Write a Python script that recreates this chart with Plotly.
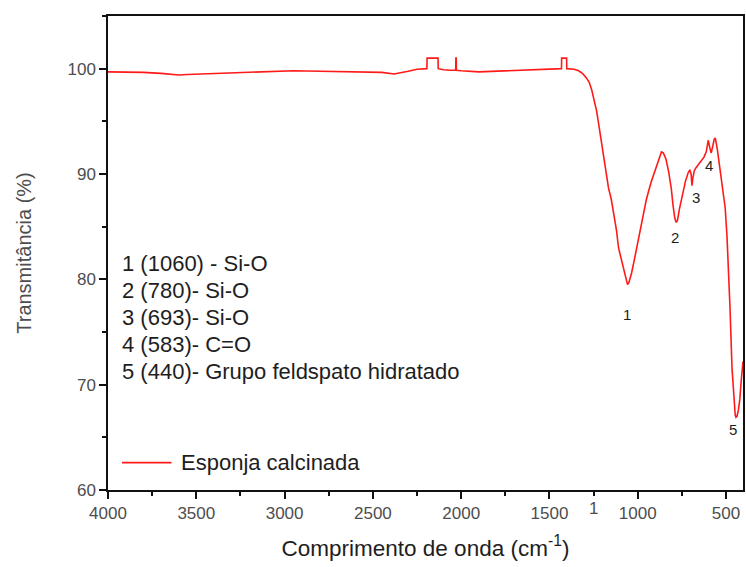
import plotly.graph_objects as go

# FTIR spectrum of the calcined sponge: wavenumber (cm-1) and transmittance (%)
wavenumber = [
    4000, 3900, 3800, 3700, 3650, 3600, 3550, 3450, 3300, 3100, 2950, 2800,
    2600, 2450, 2380, 2340, 2300, 2250, 2200, 2194, 2193, 2131, 2130, 2100,
    2060, 2031, 2030, 2028, 2027, 2000, 1900, 1800, 1700, 1600, 1500, 1440,
    1432, 1431, 1403, 1402, 1360, 1335, 1310, 1290, 1275, 1261, 1245, 1233,
    1220, 1205, 1185, 1166, 1150, 1137, 1120, 1109, 1092, 1075, 1065, 1058,
    1050, 1035, 1020, 1007, 996, 975, 951, 925, 900, 880, 866, 855, 840, 825,
    810, 800, 790, 782, 775, 765, 748, 730, 715, 705, 698, 693, 688, 680, 670,
    655, 640, 625, 612, 601, 592, 584, 576, 567, 561, 550, 533, 519, 505, 495,
    488, 478, 466, 455, 448, 444, 438, 430, 422, 415, 410, 407, 404,
]
transmittance = [
    99.7, 99.7, 99.65, 99.55, 99.45, 99.4, 99.45, 99.5, 99.6, 99.7, 99.8, 99.75,
    99.7, 99.65, 99.5, 99.6, 99.75, 99.95, 100.0, 100.0, 101.0, 101.0, 100.0, 99.9,
    99.85, 99.85, 101.0, 101.0, 99.85, 99.8, 99.7, 99.75, 99.8, 99.9, 99.95, 100.0,
    100.0, 101.0, 101.0, 100.0, 99.95, 99.8, 99.5, 99.1, 98.7, 98.0, 97.0, 96.0,
    94.6, 92.9, 90.8, 88.7, 87.6, 86.3, 84.6, 83.0, 81.8, 80.5, 79.8, 79.5,
    79.7, 80.6, 81.8, 82.9, 83.8, 85.8, 87.6, 89.2, 90.5, 91.5, 92.1, 92.0, 91.4, 90.2,
    88.6, 87.0, 85.8, 85.4, 85.6, 86.6, 88.0, 89.3, 90.1, 90.4, 90.0, 88.9, 89.6, 90.3, 90.6,
    90.9, 91.2, 91.6, 92.1, 93.2, 92.5, 92.0, 92.6, 93.3, 93.4, 92.4, 90.3, 88.6, 86.8, 84.2,
    81.8, 77.5, 71.5, 68.0, 67.1, 66.9, 67.0, 67.6, 68.6, 70.2, 71.6, 72.0, 72.2,
]
series_name = "Esponja calcinada"

# Band assignments listed inside the plot
band_notes = [
    "1 (1060) - Si-O",
    "2 (780)- Si-O",
    "3 (693)- Si-O",
    "4 (583)- C=O",
    "5 (440)- Grupo feldspato hidratado",
]

# Peak numbers placed beside each band
peak_ids = ["1", "2", "3", "4", "5"]
peak_x = [1060, 790, 668, 595, 460]
peak_y = [76.7, 84.0, 87.8, 90.8, 65.7]

x_tick_vals = [4000, 3500, 3000, 2500, 2000, 1500, 1000, 500]
x_tick_text = ["4000", "3500", "3000", "2500", "2000", "1500", "1000", "500"]
y_tick_vals = [60, 70, 80, 90, 100]

FONT = "Liberation Sans, Arial, sans-serif"
TICK_COLOR = "#4d4d4d"
TEXT_COLOR = "#1e1e1e"
LINE_COLOR = "#ff1a1a"

fig = go.Figure()
fig.add_trace(go.Scatter(
    x=wavenumber, y=transmittance, mode="lines",
    line=dict(color=LINE_COLOR, width=1.6),
    name=series_name, showlegend=False,
))

annotations = []
for i, txt in enumerate(band_notes):
    annotations.append(dict(
        xref="paper", yref="y", x=0.019, y=81.5 - i * 2.56,
        text=txt, showarrow=False, xanchor="left", yanchor="middle",
        font=dict(family=FONT, size=22, color=TEXT_COLOR),
    ))
for pid, px, py in zip(peak_ids, peak_x, peak_y):
    annotations.append(dict(
        x=px, y=py, text=pid, showarrow=False,
        font=dict(family=FONT, size=15, color=TEXT_COLOR),
    ))
# Stray label sitting on the 1250 minor tick
annotations.append(dict(
    x=1250, xref="x", yref="paper", y=0, yshift=-18, text="1",
    showarrow=False, yanchor="middle",
    font=dict(family=FONT, size=17, color=TICK_COLOR),
))

# Legend key: short red line followed by the series name
legend_y = 62.6
annotations.append(dict(
    xref="paper", yref="y", x=0.112, y=legend_y, text=series_name,
    showarrow=False, xanchor="left", yanchor="middle",
    font=dict(family=FONT, size=22, color=TEXT_COLOR),
))
shapes = [dict(
    type="line", xref="paper", yref="y", x0=0.022, x1=0.100, y0=legend_y, y1=legend_y,
    line=dict(color=LINE_COLOR, width=1.6),
)]

fig.update_layout(
    width=746, height=567,
    margin=dict(l=108, r=1, t=16, b=77),
    paper_bgcolor="white", plot_bgcolor="white",
    font=dict(family=FONT, color=TICK_COLOR),
    annotations=annotations,
    shapes=shapes,
    showlegend=False,
    xaxis=dict(
        range=[4000, 404], autorange=False,
        tickvals=x_tick_vals, ticktext=x_tick_text,
        ticks="outside", ticklen=7, tickwidth=1.5, tickcolor="#111",
        tickfont=dict(family=FONT, size=17, color=TICK_COLOR),
        minor=dict(dtick=250, tick0=0, ticks="outside", ticklen=4, tickwidth=1.5, tickcolor="#111"),
        showline=True, linecolor="#111", linewidth=1.5, mirror=True,
        showgrid=False, zeroline=False,
        title=dict(text="Comprimento de onda (cm<sup>-1</sup>)", standoff=18,
                   font=dict(family=FONT, size=22.5, color=TEXT_COLOR)),
    ),
    yaxis=dict(
        range=[60, 105], autorange=False,
        tickvals=y_tick_vals,
        ticks="outside", ticklen=7, tickwidth=1.5, tickcolor="#111",
        tickfont=dict(family=FONT, size=17, color=TICK_COLOR),
        minor=dict(dtick=5, tick0=0, ticks="outside", ticklen=4, tickwidth=1.5, tickcolor="#111"),
        showline=True, linecolor="#111", linewidth=1.5, mirror=True,
        showgrid=False, zeroline=False,
        title=dict(text="Transmitância (%)", standoff=30,
                   font=dict(family=FONT, size=20, color=TICK_COLOR)),
    ),
)

fig.write_html("out.html")
